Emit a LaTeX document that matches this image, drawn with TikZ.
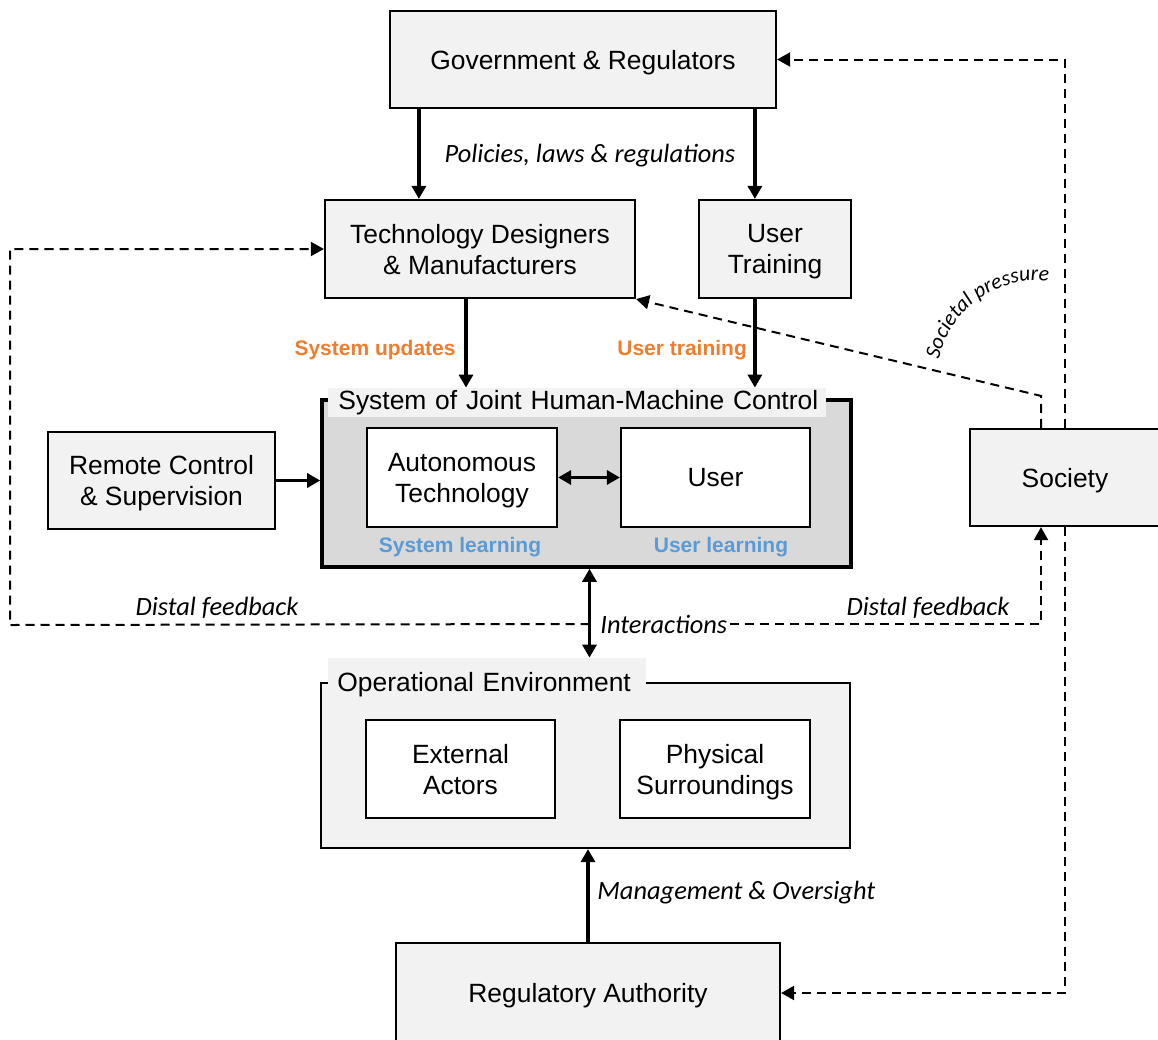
\documentclass[tikz,border=0pt]{standalone}
\usepackage{fontspec}
\setmainfont{Liberation Sans}
\newfontfamily\calibri{Carlito}
\usetikzlibrary{arrows.meta,positioning,decorations.text}

\definecolor{boxgray}{HTML}{F2F2F2}
\definecolor{sysgray}{HTML}{D9D9D9}
\definecolor{updorange}{HTML}{ED7D31}
\definecolor{learnblue}{HTML}{5B9BD5}

\begin{document}
\begin{tikzpicture}[x=0.5pt, y=-0.5pt, >={Triangle[length=6.5pt,width=7pt]},
    box/.style={draw, line width=1.1pt, fill=boxgray, align=center, inner sep=0pt,
        text depth=0pt, font=\fontsize{13.2}{15.5}\selectfont},
    inbox/.style={box, fill=white},
    tag/.style={fill=boxgray, inner xsep=2.5pt, inner ysep=0pt, align=left, anchor=west,
        font=\fontsize{13.2}{15.5}\selectfont},
    flow/.style={->, line width=1.6pt},
    fback/.style={->, line width=1pt, dash pattern=on 4.5pt off 3pt},
    note/.style={font=\calibri\itshape\fontsize{13.2}{15.5}\selectfont, inner sep=1pt},
    upd/.style={font=\bfseries\fontsize{10.5}{12}\selectfont, text=updorange, inner sep=1pt},
    lrn/.style={font=\bfseries\fontsize{10.5}{12}\selectfont, text=learnblue, inner sep=1pt}]
    \useasboundingbox (0,0) rectangle (1158,1040);

    % Define nodes
    \node[box, minimum width=193pt, minimum height=48.5pt] (gov) at (583,59.5) {Government \& Regulators};
    \node[box, minimum width=155pt, minimum height=49pt] (tech) at (480,249) {Technology Designers\\\& Manufacturers};
    \node[box, minimum width=76pt, minimum height=49pt] (train) at (775,249) {User\\Training};
    \node[box, minimum width=113.5pt, minimum height=48.5pt] (remote) at (161.5,480.5) {Remote Control\\\& Supervision};
    \node[box, minimum width=95pt, minimum height=48.5pt] (soc) at (1065,477.5) {Society};
    \node[box, minimum width=192pt, minimum height=50pt] (reg) at (588,993) {Regulatory Authority};

    % joint control system
    \node[box, fill=sysgray, line width=1.8pt, minimum width=264.5pt, minimum height=83.5pt] (sys) at (586.5,483.5) {};
    \node[tag, text width=244pt, minimum height=14.5pt] (syslab) at (328,402.5) {\hspace*{2.5pt}System of Joint Human-Machine Control};
    \node[inbox, minimum width=95pt, minimum height=49.5pt] (auto) at (462,477.5) {Autonomous\\Technology};
    \node[inbox, minimum width=94.5pt, minimum height=49.5pt] (user) at (715.5,477.5) {User};
    \node[lrn] (syslearn) at (460,547) {System learning};
    \node[lrn] (userlearn) at (721,547) {User learning};

    % operational environment
    \node[box, minimum width=264.5pt, minimum height=82.5pt] (env) at (585.5,765.5) {};
    \node[tag, text width=154pt, minimum height=27pt] (envlab) at (328,685) {\hspace*{2pt}Operational Environment};
    \node[inbox, minimum width=94.5pt, minimum height=49pt] (ext) at (460.5,769) {External\\Actors};
    \node[inbox, minimum width=95pt, minimum height=49pt] (phys) at (715,769) {Physical\\Surroundings};

    % arrow columns
    \coordinate (colA) at ([xshift=47.5pt]tech.north west);
    \coordinate (colB) at ([xshift=28.5pt]train.north west);
    \coordinate (colC) at ([xshift=-7pt]tech.south);
    \coordinate (colD) at ([xshift=1.5pt]sys.south);
    \coordinate (colE) at ([xshift=-12pt]soc.south);
    \coordinate (corner) at (10,625);

    % labels
    \node[note] (policies) at (590,156) {Policies, laws \& regulations};
    \node[upd, anchor=east] (sysupd) at (458,350) {System updates};
    \node[upd, anchor=west] (usertrain) at (615,350) {User training};
    \node[note, anchor=west] (inter) at (598,624) {Interactions};
    \node[note] (distL) at (217,608) {Distal feedback};
    \node[note] (distR) at (928,608) {Distal feedback};
    \node[note, anchor=west] (mgmt) at (595,893) {Management \& Oversight};

    \draw[flow] (gov.south -| colA) -- (colA);
    \draw[flow] (gov.south -| colB) -- (colB);
    \draw[flow] (colC) -- (colC |- syslab.north);
    \draw[flow] (colB |- train.south) -- (colB |- syslab.north);
    \draw[flow] (remote.east) -- (remote.east -| sys.west);
    \draw[flow, <->] (auto.east) -- (user.west);
    \draw[flow, <->] (colD) -- (colD |- envlab.north);
    \draw[flow] (reg.north) -- (reg.north |- env.south);

    % feedback loops
    \draw[fback] (inter.east) -| (colE);
    \draw[fback] (colD |- inter.west) -- (corner) |- (tech.west);
    \draw[fback] (colE |- soc.north) -- ++(0,-32) -- (tech.south east);
    \draw[fback] (soc.north) |- (gov.east);
    \draw[fback] (soc.south) |- (reg.east);

    \path[decorate, decoration={text along path, text align=center,
        text={|\calibri\itshape\fontsize{10.8}{12}\selectfont|Societal pressure}}]
        (938,364) arc[start angle=170.4, end angle=80.5, radius=50pt];

\end{tikzpicture}
\end{document}
